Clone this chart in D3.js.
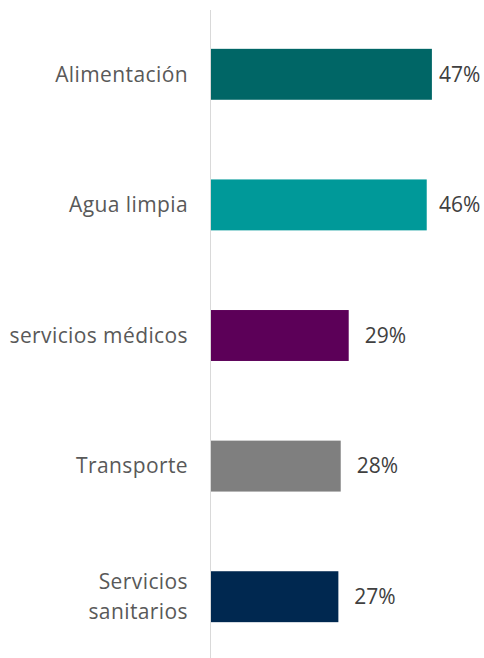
<!DOCTYPE html>
<html>
<head>
<meta charset="utf-8">
<script src="https://cdn.jsdelivr.net/npm/d3@7"></script>
<style>
  body { margin: 0; background: #fff; }
  text { font-family: "Open Sans", "Noto Sans", sans-serif; }
</style>
</head>
<body>
<script>
let width = 484;
let height = 658;

// data
let categories = ["Alimentación", "Agua limpia", "servicios médicos", "Transporte", "Servicios sanitarios"];
let values = [0.47, 0.459, 0.293, 0.276, 0.271];
let valueLabels = ["47%", "46%", "29%", "28%", "27%"];
let barColors = ["#006666", "#009999", "#5c0058", "#7f7f7f", "#002850"];

let margin = {"top":9, "bottom":-4, "left":211, "right":3};

let svg = d3.select("body").append("svg").attr("width", width).attr("height", height);

let x = d3.scaleLinear().domain([0, 1]).range([margin.left, margin.left + 470]);
let y = d3.scaleBand().domain(categories)
  .range([margin.top, height - margin.bottom])
  .paddingInner(0.61).paddingOuter(0.305);

// bars
svg.selectAll("rect.bar").data(values).join("rect").attr("class", "bar")
  .attr("x", x(0)).attr("y", (d, i) => y(categories[i]))
  .attr("width", d => x(d) - x(0)).attr("height", y.bandwidth())
  .attr("fill", (d, i) => barColors[i]);

// category axis line
svg.append("line").attr("x1", x(0) - 0.5).attr("x2", x(0) - 0.5)
  .attr("y1", margin.top + 1).attr("y2", height)
  .attr("stroke", "#d9d9d9").attr("stroke-width", 1);

// category labels (wrap the long one on two lines)
let labelLines = categories.map(c => c === "Servicios sanitarios" ? ["Servicios", "sanitarios"] : [c]);
let lineH = 30;
svg.selectAll("text.cat").data(categories).join("text").attr("class", "cat")
  .attr("text-anchor", "end").attr("fill", "#595959").attr("font-size", "21px")
  .attr("letter-spacing", "0.4px")
  .each(function(d, i) {
    let lines = labelLines[i];
    let cy = y(d) + y.bandwidth() / 2;
    d3.select(this).selectAll("tspan").data(lines).join("tspan")
      .attr("x", x(0) - 23)
      .attr("y", (l, j) => cy + (j - (lines.length - 1) / 2) * lineH)
      .attr("dy", "0.35em")
      .text(l => l);
  });

// value labels, pushed back inside the plot on the right
svg.selectAll("text.val").data(values).join("text").attr("class", "val")
  .attr("fill", "#404040").attr("font-size", "21px")
  .attr("x", d => Math.min(x(d) + 16, width - 45))
  .attr("y", (d, i) => y(categories[i]) + y.bandwidth() / 2)
  .attr("dy", "0.35em")
  .text((d, i) => valueLabels[i]);
</script>
</body>
</html>
